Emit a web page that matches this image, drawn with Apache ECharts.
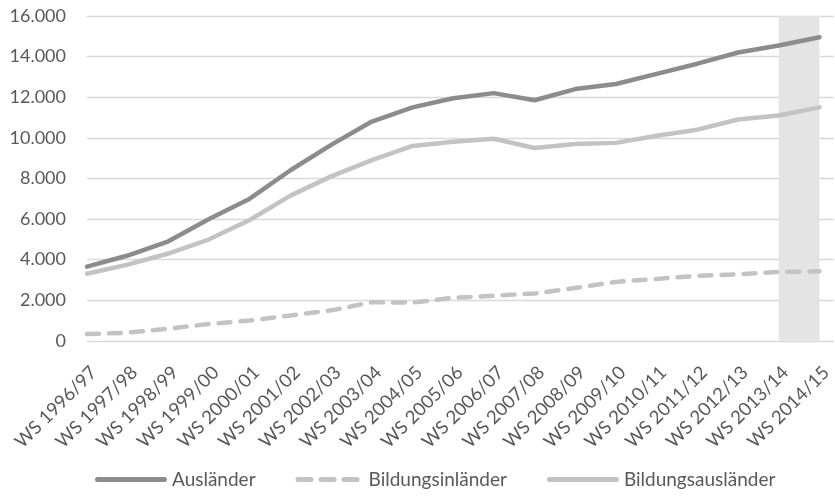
<!DOCTYPE html>
<html>
<head>
<meta charset="utf-8">
<script src="https://cdn.jsdelivr.net/npm/echarts@6/dist/echarts.min.js"></script>
<style>
html,body{margin:0;padding:0;background:#fff;}
#c{width:835px;height:498px;}
</style>
</head>
<body>
<div id="c"></div>
<script>
const categories = ["WS 1996/97","WS 1997/98","WS 1998/99","WS 1999/00","WS 2000/01","WS 2001/02","WS 2002/03","WS 2003/04","WS 2004/05","WS 2005/06","WS 2006/07","WS 2007/08","WS 2008/09","WS 2009/10","WS 2010/11","WS 2011/12","WS 2012/13","WS 2013/14","WS 2014/15"];
const auslaender = [3650,4200,4900,6000,7000,8400,9650,10800,11500,11950,12200,11850,12400,12650,13150,13650,14200,14550,14950];
const bildungsinlaender = [330,400,600,830,1000,1250,1500,1900,1880,2120,2220,2330,2600,2900,3050,3200,3280,3390,3420];
const bildungsauslaender = [3300,3750,4300,5000,5950,7150,8100,8900,9600,9800,9950,9500,9700,9750,10100,10400,10900,11100,11500];
const highlightRange = ["WS 2013/14","WS 2014/15"];
const seriesNames = ["Ausländer","Bildungsinländer","Bildungsausländer"];

const FONT = "Lato";
const TXT = "#595959";
const DARK = "#8c8c8c";
const LIGHT = "#c3c3c3";
const fmt = v => v === 0 ? "0" : v.toLocaleString("de-DE");

const solidIcon = 'path://M2.5,0H69.5A2.5,2.5,0,0,1,69.5,5H2.5A2.5,2.5,0,0,1,2.5,0Z';
const dashIcon = 'path://M2.5,0H15.5A2.5,2.5,0,0,1,15.5,5H2.5A2.5,2.5,0,0,1,2.5,0Z M25.5,0H38.5A2.5,2.5,0,0,1,38.5,5H25.5A2.5,2.5,0,0,1,25.5,0Z M48.5,0H61.5A2.5,2.5,0,0,1,61.5,5H48.5A2.5,2.5,0,0,1,48.5,0Z';

const chart = echarts.init(document.getElementById('c'), null, {renderer:'canvas'});
chart.setOption({
  animation:false,
  backgroundColor:'#ffffff',
  grid:[
    {left:87, right:13, top:16, bottom:157.2},
    {left:87, right:1, top:16, bottom:157.2}
  ],
  xAxis:[
    {type:'category', gridIndex:0, data:categories, boundaryGap:false,
     axisLine:{show:false}, axisTick:{show:false}, splitLine:{show:false},
     axisLabel:{rotate:45, interval:0, margin:22, align:'right', verticalAlign:'top',
       color:TXT, fontFamily:FONT, fontSize:18.5}},
    {type:'category', gridIndex:1, data:categories, boundaryGap:false, show:false}
  ],
  yAxis:[
    {type:'value', gridIndex:0, min:0, max:16000, interval:2000,
     axisLine:{show:false}, axisTick:{show:false}, splitLine:{show:false},
     axisLabel:{formatter:fmt, margin:21, color:TXT, fontFamily:FONT, fontSize:18}},
    {type:'value', gridIndex:1, min:0, max:16000, interval:2000,
     axisLine:{show:false}, axisTick:{show:false}, axisLabel:{show:false},
     splitLine:{show:true, lineStyle:{color:'#d9d9d9', width:1.3}}}
  ],
  legend:{
    data:[
      {name:seriesNames[0], icon:solidIcon, itemStyle:{color:DARK}},
      {name:seriesNames[1], icon:dashIcon, itemStyle:{color:LIGHT}},
      {name:seriesNames[2], icon:solidIcon, itemStyle:{color:LIGHT}}
    ],
    bottom:4, left:90, itemWidth:72, itemHeight:5, itemGap:40,
    textStyle:{color:TXT, fontFamily:FONT, fontSize:19}
  },
  series:[
    {name:'band', type:'line', data:[], xAxisIndex:0, yAxisIndex:0, z:1,
     markArea:{silent:true, itemStyle:{color:'#e4e4e4'},
       data:[[{xAxis:highlightRange[0]},{xAxis:highlightRange[1]}]]}},
    {name:seriesNames[0], type:'line', data:auslaender, showSymbol:false, symbol:'none', z:3,
     lineStyle:{color:DARK, width:4.5, cap:'round', join:'round'}, itemStyle:{color:DARK}},
    {name:seriesNames[1], type:'line', data:bildungsinlaender, showSymbol:false, symbol:'none', z:3,
     lineStyle:{color:LIGHT, width:4.5, type:[12,10], cap:'round', join:'round'}, itemStyle:{color:LIGHT}},
    {name:seriesNames[2], type:'line', data:bildungsauslaender, showSymbol:false, symbol:'none', z:3,
     lineStyle:{color:LIGHT, width:4.5, cap:'round', join:'round'}, itemStyle:{color:LIGHT}}
  ]
});
</script>
</body>
</html>
